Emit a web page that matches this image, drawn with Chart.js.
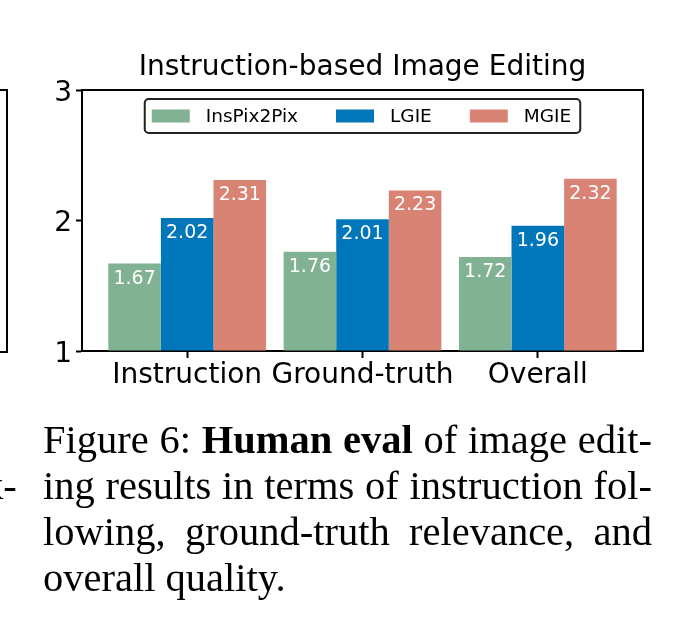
<!DOCTYPE html>
<html>
<head>
<meta charset="utf-8">
<script src="https://cdn.jsdelivr.net/npm/chart.js@4"></script>
<style>
  html, body { margin: 0; padding: 0; background: #fff; }
  #wrap { position: relative; width: 695px; height: 643px; overflow: hidden; }
  #c { position: absolute; left: 0; top: 0; }
  .cap { position: absolute; font-family: 'Liberation Serif', 'Times New Roman', serif; font-size: 40.5px; line-height: 46px; color: #000; }
  #caption { left: 43px; top: 417px; width: 609px; }
  #caption .j { text-align: justify; text-align-last: justify; white-space: nowrap; }
  #caption .l { text-align: left; white-space: nowrap; }
  #frag { left: -17px; top: 463px; }
</style>
</head>
<body>
<div id="wrap">
  <canvas id="c" width="695" height="643"></canvas>
  <div id="caption" class="cap">
    <div class="j">Figure 6: <b>Human eval</b> of image edit-</div>
    <div class="j">ing results in terms of instruction fol-</div>
    <div class="j">lowing, ground-truth relevance, and</div>
    <div class="l">overall quality.</div>
  </div>
  <div id="frag" class="cap">k-</div>
</div>
<script>
const categories = ['Instruction', 'Ground-truth', 'Overall'];
const seriesNames = ['InsPix2Pix', 'LGIE', 'MGIE'];
const insPix2PixValues = [1.67, 1.76, 1.72];
const lgieValues = [2.02, 2.01, 1.96];
const mgieValues = [2.31, 2.23, 2.32];
const yTickValues = [1, 2, 3];
const chartTitle = 'Instruction-based Image Editing';

const seriesColors = ['rgb(130,178,148)', 'rgb(0,118,187)', 'rgb(217,131,117)'];
const FONT = "'DejaVu Sans', sans-serif";

function toPoints(vals) { return vals.map((v, i) => ({ x: i, y: v })); }

const frameAndLabels = {
  id: 'frameAndLabels',
  afterDatasetsDraw(chart) {
    const ctx = chart.ctx;
    ctx.save();
    ctx.fillStyle = '#fff';
    ctx.font = '19px ' + FONT;
    ctx.textAlign = 'center';
    ctx.textBaseline = 'middle';
    chart.data.datasets.forEach((ds, di) => {
      const meta = chart.getDatasetMeta(di);
      meta.data.forEach((bar, i) => {
        ctx.fillText(ds.data[i].y.toFixed(2), bar.x, bar.y + 15);
      });
    });
    ctx.restore();
  },
  afterDraw(chart) {
    const ctx = chart.ctx;
    const a = chart.chartArea;
    ctx.save();
    ctx.strokeStyle = '#000';
    ctx.lineWidth = 2;
    ctx.beginPath();
    ctx.moveTo(a.left - 1, a.top);
    ctx.lineTo(a.right, a.top);
    ctx.lineTo(a.right, a.bottom + 1);
    ctx.stroke();
    // fragment of neighbouring panel
    ctx.beginPath();
    ctx.moveTo(0, a.top);
    ctx.lineTo(7, a.top);
    ctx.lineTo(7, a.bottom + 1);
    ctx.lineTo(0, a.bottom + 1);
    ctx.stroke();

    // legend box
    ctx.font = '18.5px ' + FONT;
    const sw = 38, sh = 13, gapText = 16, gapItem = 38, padL = 7, padR = 9;
    const items = chart.data.datasets.map(ds => ({ label: ds.label, color: ds.backgroundColor, w: ctx.measureText(ds.label).width }));
    let total = padL + padR;
    items.forEach((it, k) => { total += sw + gapText + it.w + (k < items.length - 1 ? gapItem : 0); });
    const bx = (a.left + a.right) / 2 - total / 2;
    const by = a.top + 9, bh = 34;
    ctx.beginPath();
    if (ctx.roundRect) ctx.roundRect(bx, by, total, bh, 4); else ctx.rect(bx, by, total, bh);
    ctx.fillStyle = '#fff';
    ctx.fill();
    ctx.lineWidth = 2;
    ctx.strokeStyle = '#222';
    ctx.stroke();
    let x = bx + padL;
    const cy = by + bh / 2;
    ctx.textAlign = 'left';
    ctx.textBaseline = 'middle';
    items.forEach(it => {
      ctx.fillStyle = it.color;
      ctx.fillRect(x, cy - sh / 2, sw, sh);
      x += sw + gapText;
      ctx.fillStyle = '#000';
      ctx.fillText(it.label, x, cy + 1);
      x += it.w + gapItem;
    });
    ctx.restore();
  }
};

new Chart(document.getElementById('c'), {
  type: 'bar',
  data: {
    datasets: [
      { label: seriesNames[0], data: toPoints(insPix2PixValues), backgroundColor: seriesColors[0] },
      { label: seriesNames[1], data: toPoints(lgieValues), backgroundColor: seriesColors[1] },
      { label: seriesNames[2], data: toPoints(mgieValues), backgroundColor: seriesColors[2] }
    ]
  },
  options: {
    responsive: false,
    animation: false,
    devicePixelRatio: 1,
    layout: { padding: { left: 0, right: 52, top: 0, bottom: 0 } },
    datasets: { bar: { categoryPercentage: 0.9, barPercentage: 1, base: 1, borderWidth: 0 } },
    plugins: {
      legend: { display: false },
      tooltip: { enabled: false },
      title: {
        display: true,
        fullSize: false,
        text: chartTitle,
        color: '#000',
        font: { family: FONT, size: 28, weight: 'normal', lineHeight: 1.2 },
        padding: { top: 51, bottom: 5.4 }
      }
    },
    scales: {
      x: {
        type: 'linear',
        offset: false,
        min: -0.6,
        max: 2.6,
        afterFit(s) { s.height = 292; },
        afterBuildTicks(s) { s.ticks = categories.map((_, i) => ({ value: i })); },
        grid: { offset: false, drawOnChartArea: false, drawTicks: true, tickLength: 7, tickWidth: 2, tickColor: '#000' },
        border: { display: true, color: '#000', width: 2 },
        ticks: {
          color: '#000',
          font: { family: FONT, size: 28 },
          padding: 1,
          maxRotation: 0,
          autoSkip: false,
          callback: (v) => categories[v]
        }
      },
      y: {
        min: 1,
        max: 3,
        afterFit(s) { s.width = 82; },
        afterBuildTicks(s) { s.ticks = yTickValues.map(v => ({ value: v })); },
        grid: { drawOnChartArea: false, drawTicks: true, tickLength: 6, tickWidth: 2, tickColor: '#000' },
        border: { display: true, color: '#000', width: 2 },
        ticks: {
          color: '#000',
          font: { family: FONT, size: 28, lineHeight: 0.25 },
          padding: 4,
          callback: (v) => ['', String(v)]
        }
      }
    }
  },
  plugins: [frameAndLabels]
});
</script>
</body>
</html>
